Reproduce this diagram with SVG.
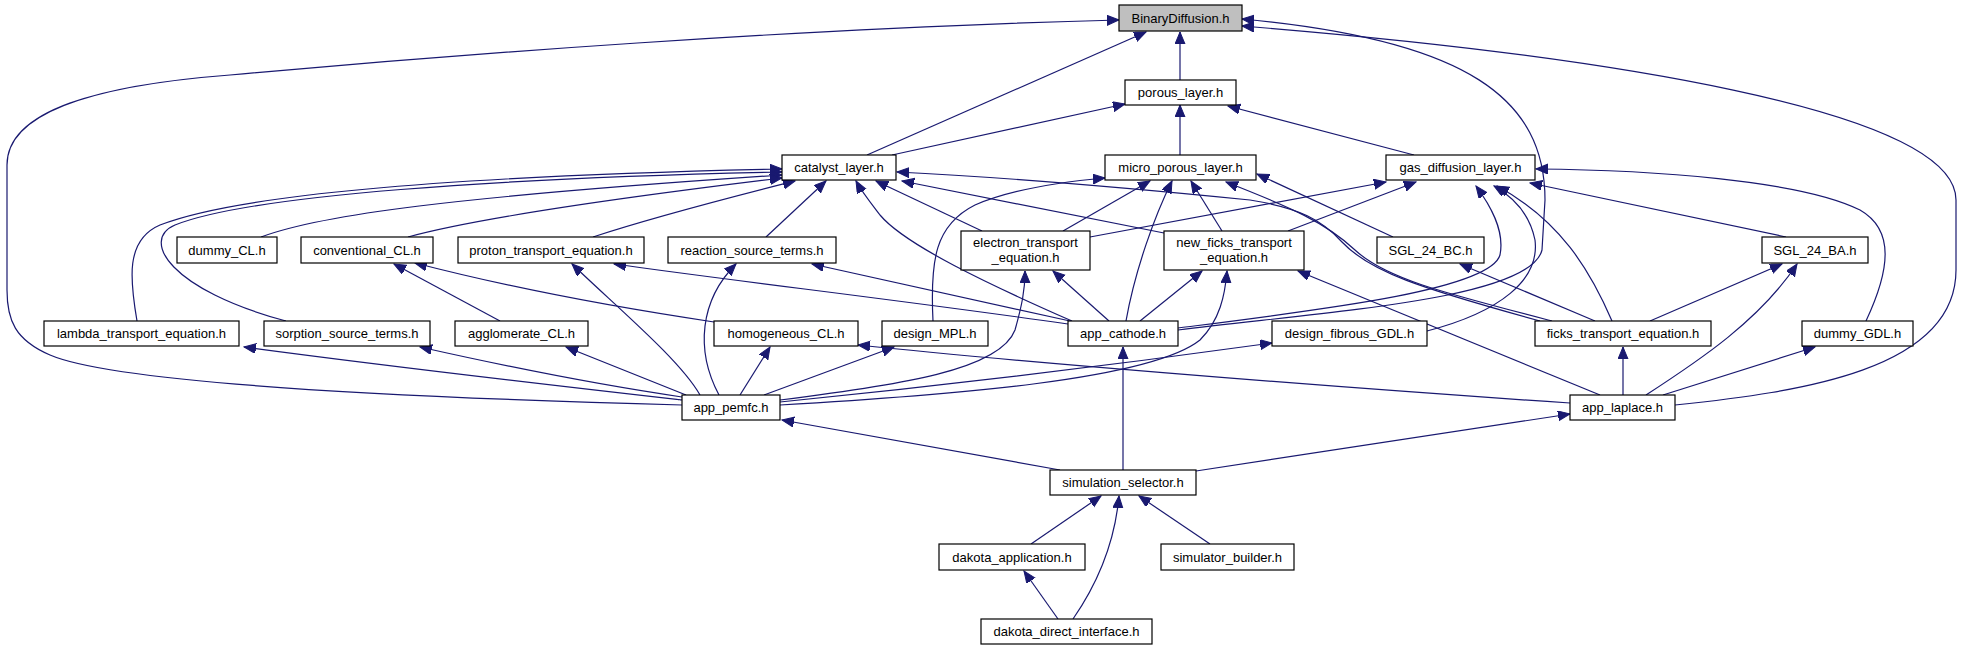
<svg xmlns="http://www.w3.org/2000/svg" width="1962" height="651" viewBox="0 0 1962 651">
<defs>
<style>
.n rect{fill:#fff;stroke:#000;stroke-width:1.2}
.n text{font-family:"Liberation Sans",Arial,sans-serif;font-size:13px;fill:#000;text-anchor:middle}
.e path{fill:none;stroke:#191970;stroke-width:1.2;marker-end:url(#a)}
</style>
<marker id="a" markerWidth="13" markerHeight="11" refX="12" refY="5" orient="auto" markerUnits="userSpaceOnUse"><path d="M0,0 L12,5 L0,10 z" fill="#191970" stroke="#191970" stroke-width="1"/></marker>
</defs>
<rect width="1962" height="651" fill="#fff"/>
<g id="connectors" class="e">
<path d="M1180,80 L1180,32"/>
<path d="M867,155 L1146,32"/>
<path d="M682,405 C420,398 120,385 50,355 C15,340 7,320 7,290 L7,165 C7,110 100,85 230,75 C450,55 800,28 1119,20"/>
<path d="M1178,330 C1320,312 1530,300 1542,250 L1545,200 C1545,100 1470,40 1242,19"/>
<path d="M1675,405 C1800,392 1956,370 1956,270 L1956,200 C1956,110 1600,55 1242,26"/>
<path d="M892,155 L1125,104"/>
<path d="M1180,155 L1180,105"/>
<path d="M1414,155 L1228,106"/>
<path d="M137,321 C130,280 125,240 160,225 C250,190 500,175 782,169"/>
<path d="M286,321 C170,290 140,240 175,225 C250,195 500,178 782,172"/>
<path d="M261,237 C320,215 450,197 782,175"/>
<path d="M408,237 C470,220 600,200 782,178"/>
<path d="M593,237 C660,215 740,195 795,181"/>
<path d="M766,237 L826,181"/>
<path d="M1072,321 C990,285 905,245 880,215 C870,202 862,192 856,181"/>
<path d="M982,231 L876,181"/>
<path d="M1164,233 L902,181"/>
<path d="M1540,321 C1420,288 1370,272 1342,242 C1322,220 1300,208 1250,200 C1100,185 1000,177 897,172"/>
<path d="M933,321 C930,260 935,225 975,205 C1010,190 1060,182 1105,178"/>
<path d="M1063,231 L1150,181"/>
<path d="M1126,321 C1135,270 1155,215 1172,181"/>
<path d="M1222,231 L1191,181"/>
<path d="M1393,237 L1257,174"/>
<path d="M1552,321 C1440,292 1385,278 1355,250 C1325,222 1290,207 1226,182"/>
<path d="M1090,237 L1386,182"/>
<path d="M1288,231 L1416,182"/>
<path d="M1178,328 C1320,310 1490,290 1500,255 C1505,230 1490,205 1476,186"/>
<path d="M1427,331 C1500,312 1540,280 1535,240 C1530,215 1515,198 1494,186"/>
<path d="M1612,321 C1590,270 1560,220 1497,186"/>
<path d="M1786,237 L1530,183"/>
<path d="M1866,321 C1890,270 1895,230 1860,210 C1800,180 1650,170 1536,169"/>
<path d="M1595,321 L1460,264"/>
<path d="M1650,321 L1782,264"/>
<path d="M1646,395 C1700,360 1760,320 1797,264"/>
<path d="M1663,395 L1815,347"/>
<path d="M1623,395 L1623,347"/>
<path d="M1600,395 L1298,271"/>
<path d="M1570,403 C1300,385 1000,360 858,345"/>
<path d="M1196,471 L1570,414"/>
<path d="M682,400 C550,385 400,368 244,347"/>
<path d="M682,397 C600,385 500,365 420,347"/>
<path d="M686,395 L566,347"/>
<path d="M700,395 C680,360 620,310 572,264"/>
<path d="M719,395 C695,350 700,300 736,264"/>
<path d="M740,395 L770,347"/>
<path d="M764,395 L894,347"/>
<path d="M780,400 C900,385 1000,370 1015,330 C1022,305 1025,290 1025,271"/>
<path d="M780,405 C950,395 1150,380 1200,340 C1220,320 1225,295 1227,271"/>
<path d="M780,402 C1000,380 1150,360 1272,343"/>
<path d="M1060,470 L782,420"/>
<path d="M1123,470 L1123,347"/>
<path d="M1031,544 L1101,496"/>
<path d="M1073,619 C1100,580 1115,540 1119,496"/>
<path d="M1210,544 L1139,496"/>
<path d="M1058,619 L1024,571"/>
<path d="M500,321 L394,264"/>
<path d="M714,322 C600,305 500,285 415,263"/>
<path d="M1068,324 C900,300 750,283 614,264"/>
<path d="M1070,321 L812,264"/>
<path d="M1109,321 L1053,271"/>
<path d="M1140,321 L1202,271"/>
</g>
<g id="BinaryDiffusion" class="n"><rect x="1119" y="5" width="123" height="26" style="fill:#bfbfbf"/><text x="1180.5" y="22.5">BinaryDiffusion.h</text></g>
<g id="porous_layer" class="n"><rect x="1125" y="80" width="111" height="25"/><text x="1180.5" y="97">porous_layer.h</text></g>
<g id="catalyst_layer" class="n"><rect x="782" y="155" width="114" height="25"/><text x="839" y="172">catalyst_layer.h</text></g>
<g id="micro_porous_layer" class="n"><rect x="1105" y="155" width="151" height="25"/><text x="1180.5" y="172">micro_porous_layer.h</text></g>
<g id="gas_diffusion_layer" class="n"><rect x="1386" y="155" width="149" height="25"/><text x="1460.5" y="172">gas_diffusion_layer.h</text></g>
<g id="dummy_CL" class="n"><rect x="177" y="237" width="100" height="26"/><text x="227" y="254.5">dummy_CL.h</text></g>
<g id="conventional_CL" class="n"><rect x="301" y="237" width="132" height="26"/><text x="367" y="254.5">conventional_CL.h</text></g>
<g id="proton_transport_equation" class="n"><rect x="458" y="237" width="186" height="26"/><text x="551" y="254.5">proton_transport_equation.h</text></g>
<g id="reaction_source_terms" class="n"><rect x="668" y="237" width="168" height="26"/><text x="752" y="254.5">reaction_source_terms.h</text></g>
<g id="electron_transport_equation" class="n"><rect x="961" y="231" width="129" height="39"/><text x="1025.5" y="247">electron_transport</text><text x="1025.5" y="262">_equation.h</text></g>
<g id="new_ficks_transport_equation" class="n"><rect x="1164" y="231" width="140" height="39"/><text x="1234" y="247">new_ficks_transport</text><text x="1234" y="262">_equation.h</text></g>
<g id="SGL_24_BC" class="n"><rect x="1377" y="237" width="107" height="26"/><text x="1430.5" y="254.5">SGL_24_BC.h</text></g>
<g id="SGL_24_BA" class="n"><rect x="1762" y="237" width="106" height="26"/><text x="1815" y="254.5">SGL_24_BA.h</text></g>
<g id="lambda_transport_equation" class="n"><rect x="44" y="321" width="195" height="25"/><text x="141.5" y="338">lambda_transport_equation.h</text></g>
<g id="sorption_source_terms" class="n"><rect x="264" y="321" width="166" height="25"/><text x="347" y="338">sorption_source_terms.h</text></g>
<g id="agglomerate_CL" class="n"><rect x="455" y="321" width="133" height="25"/><text x="521.5" y="338">agglomerate_CL.h</text></g>
<g id="homogeneous_CL" class="n"><rect x="714" y="321" width="144" height="25"/><text x="786" y="338">homogeneous_CL.h</text></g>
<g id="design_MPL" class="n"><rect x="882" y="321" width="106" height="25"/><text x="935" y="338">design_MPL.h</text></g>
<g id="app_cathode" class="n"><rect x="1068" y="321" width="110" height="25"/><text x="1123" y="338">app_cathode.h</text></g>
<g id="design_fibrous_GDL" class="n"><rect x="1272" y="321" width="155" height="25"/><text x="1349.5" y="338">design_fibrous_GDL.h</text></g>
<g id="ficks_transport_equation" class="n"><rect x="1535" y="321" width="176" height="25"/><text x="1623" y="338">ficks_transport_equation.h</text></g>
<g id="dummy_GDL" class="n"><rect x="1802" y="321" width="111" height="25"/><text x="1857.5" y="338">dummy_GDL.h</text></g>
<g id="app_pemfc" class="n"><rect x="682" y="395" width="98" height="25"/><text x="731" y="412">app_pemfc.h</text></g>
<g id="app_laplace" class="n"><rect x="1570" y="395" width="105" height="25"/><text x="1622.5" y="412">app_laplace.h</text></g>
<g id="simulation_selector" class="n"><rect x="1050" y="470" width="146" height="25"/><text x="1123" y="487">simulation_selector.h</text></g>
<g id="dakota_application" class="n"><rect x="939" y="544" width="146" height="26"/><text x="1012" y="561.5">dakota_application.h</text></g>
<g id="simulator_builder" class="n"><rect x="1161" y="544" width="133" height="26"/><text x="1227.5" y="561.5">simulator_builder.h</text></g>
<g id="dakota_direct_interface" class="n"><rect x="981" y="619" width="171" height="25"/><text x="1066.5" y="636">dakota_direct_interface.h</text></g>
</svg>
